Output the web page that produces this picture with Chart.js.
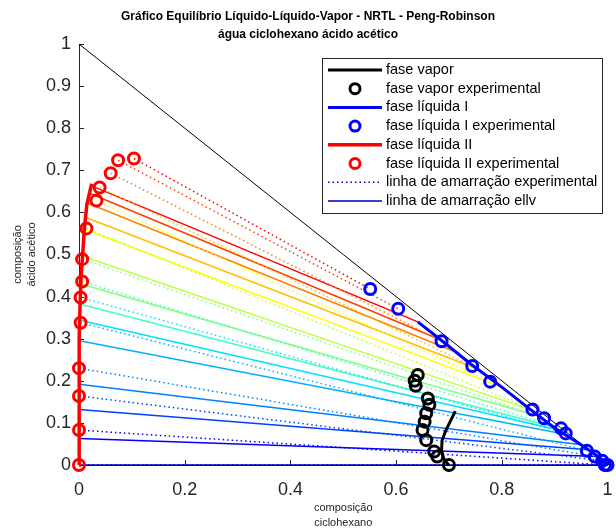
<!DOCTYPE HTML>
<html>
<head>
  <title>ELLV - NRTL - Peng-Robinson</title>
  <meta content="width=device-width, initial-scale=1.0" name="viewport">
  <script src="https://cdn.jsdelivr.net/npm/chart.js"></script>
  <style>
    html, body { margin: 0; padding: 0; background: #fff; overflow: hidden; }
  </style>
</head>
<body>
  <canvas id="ellvChart" width="616" height="531"></canvas>

  <script type="text/javascript">
    // x = fracao de ciclohexano, y = fracao de acido acetico

    // fase liquida II (rica em agua) - calculada
    var liqIIx = [0.000, 0.000, 0.000, 0.001, 0.002, 0.004, 0.007, 0.010, 0.015, 0.024];
    var liqIIy = [0.000, 0.100, 0.200, 0.300, 0.380, 0.450, 0.500, 0.560, 0.620, 0.668];

    // fase liquida I (rica em ciclohexano) - calculada
    var liqIx = [0.641, 0.685, 0.740, 0.800, 0.855, 0.900, 0.950, 0.983, 1.000];
    var liqIy = [0.340, 0.297, 0.241, 0.185, 0.131, 0.088, 0.048, 0.020, 0.000];

    // fase vapor - calculada
    var vapX = [0.712, 0.703, 0.694, 0.687, 0.686, 0.690, 0.696, 0.700];
    var vapY = [0.128, 0.105, 0.082, 0.058, 0.035, 0.016, 0.005, 0.000];

    // pontos experimentais
    var liqIIexpX = [0.000, 0.000, 0.000, 0.000, 0.003, 0.003, 0.006, 0.006, 0.014, 0.033, 0.039, 0.060, 0.074, 0.104];
    var liqIIexpY = [0.000, 0.083, 0.164, 0.230, 0.338, 0.398, 0.436, 0.489, 0.562, 0.628, 0.659, 0.693, 0.724, 0.728];
    var liqIexpX  = [1.000, 0.995, 0.990, 0.976, 0.961, 0.921, 0.912, 0.880, 0.858, 0.778, 0.744, 0.686, 0.604, 0.551];
    var liqIexpY  = [0.000, 0.000, 0.010, 0.020, 0.034, 0.075, 0.087, 0.111, 0.132, 0.198, 0.235, 0.294, 0.371, 0.418];
    var vapExpX = [0.641, 0.635, 0.637, 0.660, 0.663, 0.657, 0.654, 0.650, 0.657, 0.672, 0.678, 0.700];
    var vapExpY = [0.214, 0.200, 0.188, 0.158, 0.143, 0.123, 0.103, 0.083, 0.059, 0.032, 0.020, 0.000];

    // linhas de amarracao calculadas (ponto na fase II -> ponto na fase I)
    var tieIIx = [0.000, 0.000, 0.000, 0.000, 0.001, 0.002, 0.003, 0.004, 0.007, 0.010, 0.013, 0.018, 0.021, 0.024];
    var tieIIy = [0.000, 0.063, 0.132, 0.192, 0.295, 0.344, 0.382, 0.430, 0.496, 0.560, 0.588, 0.621, 0.645, 0.663];
    var tieIx  = [1.000, 0.983, 0.964, 0.952, 0.927, 0.908, 0.896, 0.871, 0.855, 0.800, 0.760, 0.720, 0.685, 0.641];
    var tieIy  = [0.000, 0.020, 0.036, 0.048, 0.071, 0.083, 0.091, 0.115, 0.131, 0.185, 0.225, 0.265, 0.297, 0.340];

    var tieColors = ['#0000bf', '#0000ff', '#0040ff', '#0080ff', '#00b0ff', '#00e0ff', '#40ffbf',
                     '#80ff80', '#bfff40', '#ffff00', '#ffbf00', '#ff8000', '#ff4000', '#ff0000'];

    var legendOrder = ['fase vapor', 'fase vapor experimental', 'fase líquida I', 'fase líquida I experimental',
                       'fase líquida II', 'fase líquida II experimental',
                       'linha de amarração experimental', 'linha de amarração ellv'];

    function pts(xs, ys) {
      return xs.map(function (v, i) { return { x: v, y: ys[i] }; });
    }

    var datasets = [];

    // lado do triangulo
    datasets.push({ data: [{ x: 0, y: 1 }, { x: 1, y: 0 }], showLine: true, borderColor: '#000',
                    borderWidth: 1, pointRadius: 0, order: 30 });

    for (let i = 0; i < tieIIx.length; i++) {
      datasets.push({
        label: i == 0 ? 'linha de amarração ellv' : undefined,
        data: [{ x: tieIIx[i], y: tieIIy[i] }, { x: tieIx[i], y: tieIy[i] }],
        showLine: true, borderColor: tieColors[i], borderWidth: 1.5, pointRadius: 0, order: 20
      });
      datasets.push({
        label: i == 0 ? 'linha de amarração experimental' : undefined,
        data: [{ x: liqIIexpX[i], y: liqIIexpY[i] }, { x: liqIexpX[i], y: liqIexpY[i] }],
        showLine: true, borderColor: tieColors[i], borderWidth: 1.5, borderDash: [1.5, 3],
        pointRadius: 0, order: 19
      });
    }

    datasets.push({ label: 'fase vapor', data: pts(vapX, vapY), showLine: true, borderColor: '#000',
                    borderWidth: 3, pointRadius: 0, order: 7 });
    datasets.push({ label: 'fase vapor experimental', data: pts(vapExpX, vapExpY), showLine: false,
                    pointRadius: 5.5, pointBorderWidth: 3, pointBorderColor: '#000',
                    pointBackgroundColor: 'rgba(0,0,0,0)', order: 6 });
    datasets.push({ label: 'fase líquida I', data: pts(liqIx, liqIy), showLine: true, borderColor: '#0000ff',
                    borderWidth: 3, pointRadius: 0, order: 5 });
    datasets.push({ label: 'fase líquida I experimental', data: pts(liqIexpX, liqIexpY), showLine: false,
                    pointRadius: 5.5, pointBorderWidth: 3, pointBorderColor: '#0000ff',
                    pointBackgroundColor: 'rgba(0,0,0,0)', order: 4 });
    datasets.push({ label: 'fase líquida II', data: pts(liqIIx, liqIIy), showLine: true, borderColor: '#ff0000',
                    borderWidth: 3.5, pointRadius: 0, order: 3 });
    datasets.push({ label: 'fase líquida II experimental', data: pts(liqIIexpX, liqIIexpY), showLine: false,
                    pointRadius: 5.5, pointBorderWidth: 3, pointBorderColor: '#ff0000',
                    pointBackgroundColor: 'rgba(0,0,0,0)', order: 2 });

    datasets.forEach(function (d) { d.clip = false; d.tension = 0; });

    // ticks para dentro, estilo matlab
    var innerTicks = {
      id: 'innerTicks',
      beforeDatasetsDraw: function (chart) {
        var ctx = chart.ctx, a = chart.chartArea, sx = chart.scales.x, sy = chart.scales.y;
        ctx.save();
        ctx.strokeStyle = '#262626';
        ctx.lineWidth = 1;
        ctx.beginPath();
        sx.ticks.forEach(function (t, i) {
          var px = Math.round(sx.getPixelForTick(i)) + 0.5;
          ctx.moveTo(px, a.bottom); ctx.lineTo(px, a.bottom - 5);
        });
        sy.ticks.forEach(function (t, i) {
          var py = Math.round(sy.getPixelForTick(i)) + 0.5;
          ctx.moveTo(a.left, py); ctx.lineTo(a.left + 5, py);
        });
        ctx.stroke();
        ctx.restore();
      }
    };

    // legenda dentro do grafico (canto superior direito)
    var boxLegend = {
      id: 'boxLegend',
      afterDraw: function (chart) {
        var ctx = chart.ctx;
        var bx = 322, by = 58, bw = 280, bh = 155, rowH = 18.7;
        ctx.save();
        ctx.fillStyle = '#fff';
        ctx.fillRect(bx, by, bw, bh);
        ctx.strokeStyle = '#262626';
        ctx.lineWidth = 1;
        ctx.strokeRect(bx + 0.5, by + 0.5, bw, bh);
        ctx.font = "14.5px 'Liberation Sans', Arial, sans-serif";
        ctx.textBaseline = 'middle';
        legendOrder.forEach(function (name, i) {
          var ds = chart.data.datasets.find(function (d) { return d.label === name; });
          var cy = by + 12 + i * rowH;
          if (ds.showLine) {
            ctx.beginPath();
            ctx.strokeStyle = ds.borderColor;
            ctx.lineWidth = ds.borderWidth;
            ctx.setLineDash(ds.borderDash || []);
            ctx.moveTo(bx + 6, cy); ctx.lineTo(bx + 60, cy);
            ctx.stroke();
            ctx.setLineDash([]);
          } else {
            ctx.beginPath();
            ctx.strokeStyle = ds.pointBorderColor;
            ctx.lineWidth = ds.pointBorderWidth;
            ctx.arc(bx + 33, cy, ds.pointRadius - 0.5, 0, Math.PI * 2);
            ctx.stroke();
          }
          ctx.fillStyle = '#000';
          ctx.fillText(name, bx + 64, cy);
        });
        ctx.restore();
      }
    };

    function tickText(v) {
      return String(Math.round(v * 10) / 10);
    }

    Chart.defaults.font.family = "'Liberation Sans', Arial, sans-serif";

    var chartEllv = new Chart(document.getElementById('ellvChart'), {
      type: 'scatter',
      data: { datasets: datasets },
      plugins: [innerTicks, boxLegend],
      options: {
        responsive: false,
        animation: false,
        events: [],
        layout: { padding: 0 },
        plugins: {
          legend: { display: false },
          tooltip: { enabled: false },
          title: {
            display: true,
            text: ['Gráfico Equilíbrio Líquido-Líquido-Vapor - NRTL - Peng-Robinson', 'água ciclohexano ácido acético'],
            color: '#000',
            font: { size: 12, weight: 'bold', lineHeight: 1.5 },
            padding: { top: 8, bottom: 0 }
          }
        },
        scales: {
          x: {
            type: 'linear', position: 'bottom', min: 0, max: 1,
            ticks: { stepSize: 0.2, color: '#262626', font: { size: 18 }, padding: 14, callback: tickText },
            grid: { drawOnChartArea: false, drawTicks: false },
            border: { color: '#262626', width: 1 },
            title: { display: true, text: ['composição', 'ciclohexano'], color: '#262626',
                     font: { size: 11, lineHeight: 1.4 }, padding: { top: 0, bottom: 0 } },
            afterFit: function (s) { s.height = 66; s.paddingLeft = 0; s.paddingRight = 0; }
          },
          y: {
            type: 'linear', position: 'left', min: 0, max: 1,
            ticks: { stepSize: 0.1, color: '#262626', font: { size: 18 }, padding: 8, callback: tickText },
            grid: { drawOnChartArea: false, drawTicks: false },
            border: { color: '#262626', width: 1 },
            title: { display: true, text: ['composição', 'ácido acético'], color: '#262626',
                     font: { size: 11, lineHeight: 1.3 }, padding: { top: 11, bottom: 0 } },
            afterFit: function (s) { s.width = 79; s.paddingTop = 0; s.paddingBottom = 0; }
          }
        }
      }
    });
  </script>
</body>
</html>
